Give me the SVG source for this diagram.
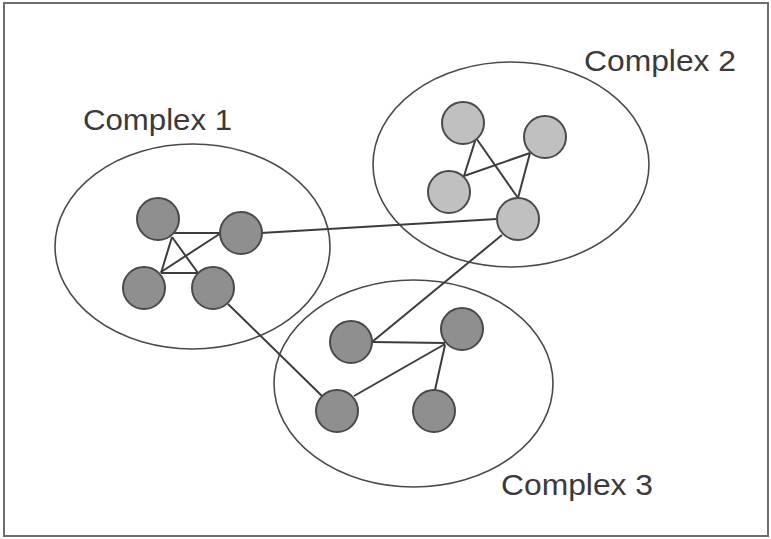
<svg xmlns="http://www.w3.org/2000/svg" width="771" height="539" viewBox="0 0 771 539">
<style>
.frame{fill:#fff;stroke:#6e6e6e;stroke-width:2}
.cx{fill:none;stroke:#4a4a4a;stroke-width:1.6}
.e{stroke:#3c3c3c;stroke-width:2;fill:none}
.n1{fill:#8f8f8f;stroke:#4a4a4a;stroke-width:2}
.n2{fill:#c0c0c0;stroke:#4a4a4a;stroke-width:2}
.lbl{font-family:"Liberation Sans",Arial,sans-serif;font-size:29px;fill:#3a3a3a}
</style>
<rect class="frame" x="4" y="3" width="764" height="533"/>
<g id="complexes">
<ellipse class="cx" cx="192.5" cy="246.5" rx="137.5" ry="102.5"/>
<ellipse class="cx" cx="511" cy="164.5" rx="138" ry="102.5"/>
<ellipse class="cx" cx="413.5" cy="383.5" rx="139.5" ry="103.5"/>
</g>
<g id="labels">
<text class="lbl" x="83" y="130" textLength="149" lengthAdjust="spacingAndGlyphs">Complex 1</text>
<text class="lbl" x="584" y="71" textLength="152" lengthAdjust="spacingAndGlyphs">Complex 2</text>
<text class="lbl" x="501" y="495" textLength="152" lengthAdjust="spacingAndGlyphs">Complex 3</text>
</g>
<g id="connectors">
<line class="e" x1="173" y1="233" x2="221" y2="233"/>
<line class="e" x1="172" y1="237" x2="161" y2="273"/>
<line class="e" x1="172" y1="237" x2="198" y2="273"/>
<line class="e" x1="161" y1="272" x2="221" y2="233"/>
<line class="e" x1="161" y1="273" x2="198" y2="273"/>
<line class="e" x1="261" y1="233" x2="497" y2="219"/>
<line class="e" x1="228" y1="304" x2="322" y2="396"/>
<line class="e" x1="476" y1="138" x2="464" y2="176"/>
<line class="e" x1="476" y1="138" x2="518" y2="198"/>
<line class="e" x1="464" y1="176" x2="530" y2="153"/>
<line class="e" x1="530" y1="153" x2="518" y2="198"/>
<line class="e" x1="502" y1="235" x2="372" y2="342"/>
<line class="e" x1="372" y1="342" x2="445" y2="343"/>
<line class="e" x1="354" y1="396" x2="445" y2="344"/>
<line class="e" x1="435" y1="390" x2="445" y2="345"/>
</g>
<g id="c1a"><circle class="n1" cx="158" cy="219" r="21"/></g>
<g id="c1b"><circle class="n1" cx="241" cy="233" r="21"/></g>
<g id="c1c"><circle class="n1" cx="144" cy="288" r="21"/></g>
<g id="c1d"><circle class="n1" cx="213" cy="288" r="21"/></g>
<g id="c2a"><circle class="n2" cx="463" cy="123" r="21"/></g>
<g id="c2b"><circle class="n2" cx="545" cy="137" r="21"/></g>
<g id="c2c"><circle class="n2" cx="449" cy="192" r="21"/></g>
<g id="c2d"><circle class="n2" cx="518" cy="219" r="21"/></g>
<g id="c3a"><circle class="n1" cx="351" cy="342" r="21"/></g>
<g id="c3b"><circle class="n1" cx="462" cy="329" r="21"/></g>
<g id="c3c"><circle class="n1" cx="337" cy="411" r="21"/></g>
<g id="c3d"><circle class="n1" cx="434" cy="411" r="21"/></g>
</svg>
